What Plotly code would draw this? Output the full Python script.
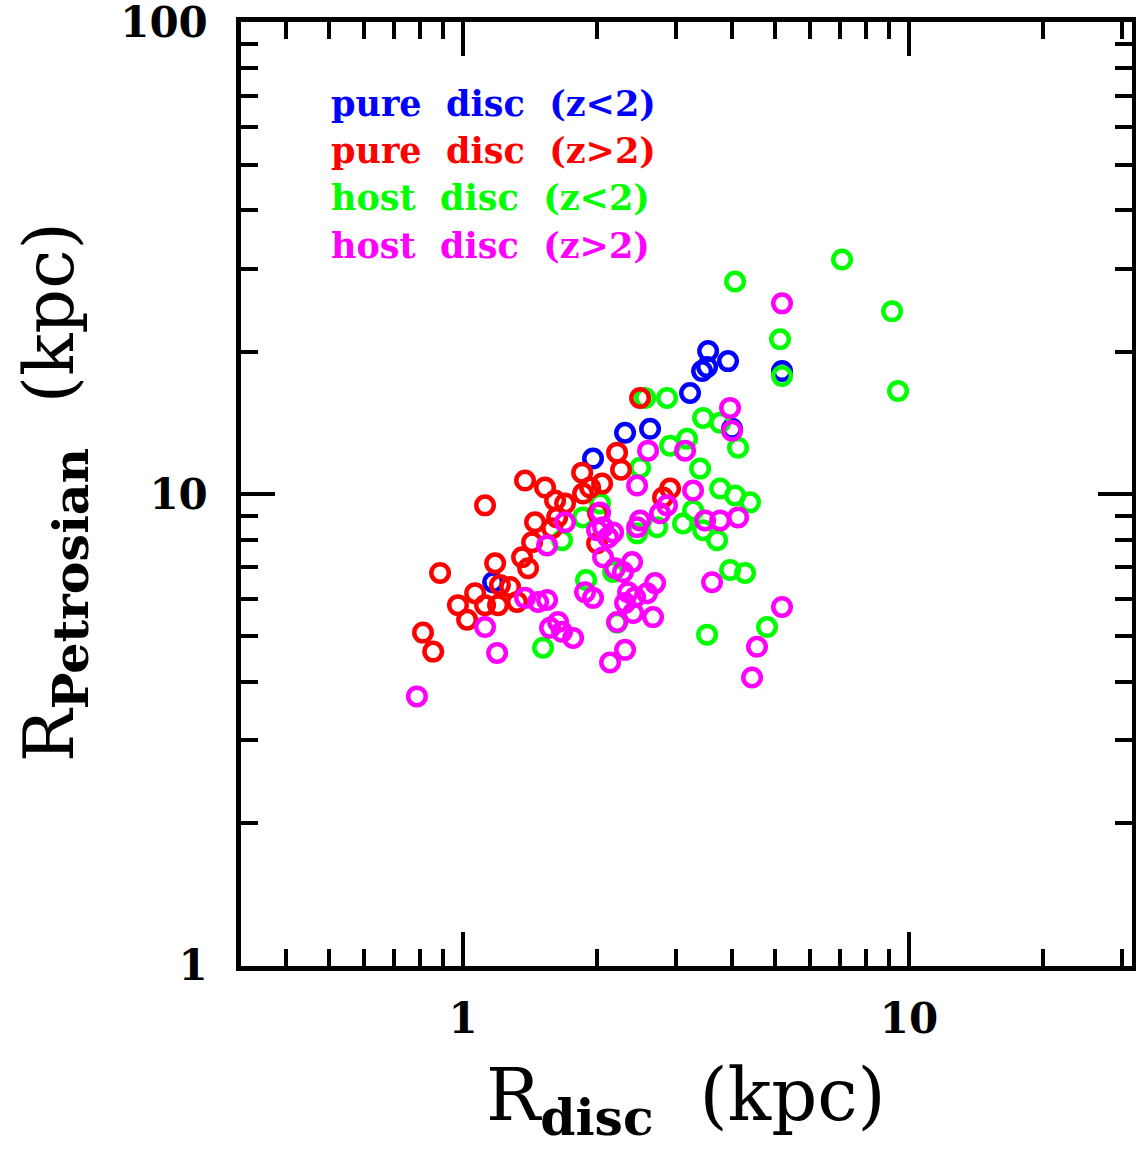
import plotly.graph_objects as go

# ---- data ----
pure_lo_x = [1.168, 1.956, 2.308, 2.626, 3.228, 3.435, 3.525, 3.544, 3.928, 5.190, 4.010]
pure_lo_y = [6.50, 11.89, 13.49, 13.75, 16.38, 18.23, 18.59, 20.10, 19.14, 18.23, 13.75]

pure_hi_x = [1.120, 1.377, 1.527, 1.608, 1.693, 1.849, 1.927, 2.050, 1.858, 2.215, 2.261, 2.494,
             2.912, 2.808, 1.450, 1.584, 1.428, 1.356, 1.399, 1.180, 0.888, 1.064, 1.210, 1.275,
             0.974, 1.021, 1.120, 1.198, 1.321, 0.813, 0.857, 1.997, 2.008, 1.625]
pure_hi_y = [9.46, 10.68, 10.32, 9.69, 9.55, 11.10, 10.32, 10.52, 10.02, 12.24, 11.26, 15.99,
             10.27, 9.83, 8.71, 8.46, 7.90, 7.34, 6.96, 7.13, 6.80, 6.16, 6.41, 6.35,
             5.81, 5.41, 5.81, 5.81, 5.90, 5.08, 4.63, 7.86, 9.10, 8.92]

host_lo_x = [4.073, 7.076, 9.161, 5.137, 5.190, 9.448, 2.559, 2.867, 3.453, 3.770, 4.136, 2.912,
             3.178, 3.400, 2.494, 3.770, 4.073, 4.401, 3.279, 3.113, 3.453, 3.712, 1.858, 2.029,
             2.456, 2.723, 3.969, 4.289, 3.525, 4.804, 1.887, 2.170, 2.215, 1.511, 1.667]
host_lo_y = [28.24, 31.44, 24.41, 21.30, 17.80, 16.54, 15.99, 15.99, 14.50, 14.16, 12.54, 12.66,
             13.10, 11.32, 11.37, 10.27, 9.93, 9.60, 9.23, 8.66, 8.38, 7.98, 8.92, 9.55,
             8.25, 8.50, 6.90, 6.80, 5.03, 5.22, 6.57, 6.83, 5.33, 4.72, 7.98]

host_hi_x = [5.190, 3.969, 4.010, 2.599, 3.146, 2.456, 3.279, 2.867, 2.765, 2.494, 2.456, 2.029,
             2.060, 1.997, 2.170, 2.114, 3.489, 3.770, 4.136, 2.060, 2.393, 2.192, 2.284, 1.693,
             1.543, 1.377, 1.473, 1.543, 1.120, 1.192, 1.633, 1.567, 1.667, 1.765, 0.788, 1.877,
             1.956, 2.344, 2.431, 2.586, 2.695, 2.308, 2.215, 2.406, 2.667, 3.617, 2.308, 2.136,
             5.190, 4.562, 4.446]
host_hi_y = [25.38, 15.23, 13.62, 12.36, 12.36, 10.42, 10.17, 9.46, 9.10, 8.79, 8.50, 9.14,
             8.50, 8.38, 8.29, 8.09, 8.79, 8.79, 8.92, 7.34, 7.17, 6.96, 6.83, 8.71,
             7.78, 6.02, 5.90, 5.96, 5.22, 4.60, 5.35, 5.20, 5.10, 4.95, 3.72, 6.19,
             6.02, 6.19, 6.04, 6.16, 6.47, 5.87, 5.35, 5.59, 5.48, 6.50, 4.67, 4.39,
             5.76, 4.74, 4.08]

series = [
    ("pure disc (z<2)", pure_lo_x, pure_lo_y, "#0000FF"),
    ("host disc (z<2)", host_lo_x, host_lo_y, "#00FF00"),
    ("pure disc (z>2)", pure_hi_x, pure_hi_y, "#FF0000"),
    ("host disc (z>2)", host_hi_x, host_hi_y, "#FF00FF"),
]

legend_labels = ["pure\u00a0\u00a0disc\u00a0\u00a0(z&lt;2)", "pure\u00a0\u00a0disc\u00a0\u00a0(z&gt;2)",
                 "host\u00a0\u00a0disc\u00a0\u00a0(z&lt;2)", "host\u00a0\u00a0disc\u00a0\u00a0(z&gt;2)"]
legend_colors = ["#0000FF", "#FF0000", "#00FF00", "#FF00FF"]

x_tickvals = [1, 10]
x_ticktext = ["1", "10"]
y_tickvals = [1, 10, 100]
y_ticktext = ["1", "10", "100"]
x_minor = [0.4, 0.5, 0.6, 0.7, 0.8, 0.9, 2, 3, 4, 5, 6, 7, 8, 9, 20, 30]
y_minor = [2, 3, 4, 5, 6, 7, 8, 9, 20, 30, 40, 50, 60, 70, 80, 90]

W, H = 1136, 1153
L, R, T, B = 241, 4, 22, 187

fig = go.Figure()
for name, xs, ys, col in series:
    fig.add_trace(go.Scatter(
        x=xs, y=ys, mode="markers", name=name, showlegend=False,
        marker=dict(symbol="circle-open", size=17.5, color=col, line=dict(width=4.5, color=col)),
    ))

tickfont = dict(family="DejaVu Serif", size=42, color="black", weight="bold")
axis_common = dict(
    type="log", showline=True, linewidth=4.5, linecolor="black", mirror="allticks",
    ticks="inside", tickwidth=4, tickcolor="black", ticklen=34,
    showgrid=False, zeroline=False, tickfont=tickfont, ticklabeloverflow="allow",
    automargin=False,
)
fig.update_xaxes(range=[-0.498, 1.5], tickvals=x_tickvals, ticktext=x_ticktext,
                 minor=dict(ticks="inside", ticklen=17, tickwidth=4, tickcolor="black",
                            tickvals=x_minor, showgrid=False),
                 ticklabelstandoff=12, **axis_common)
fig.update_yaxes(range=[-0.0015, 2.0015], tickvals=y_tickvals, ticktext=y_ticktext,
                 minor=dict(ticks="inside", ticklen=17, tickwidth=4, tickcolor="black",
                            tickvals=y_minor, showgrid=False),
                 ticklabelstandoff=20, **axis_common)

def px(x):
    return (x - L) / (W - L - R)

def py(y):
    return (H - B - y) / (H - T - B)

annots = []
for i, (lab, col) in enumerate(zip(legend_labels, legend_colors)):
    annots.append(dict(
        text="<b>" + lab + "</b>", x=px(329), y=py(103 + 47.5 * i), xref="paper", yref="paper",
        xanchor="left", yanchor="middle", showarrow=False,
        font=dict(family="DejaVu Serif", size=35, color=col),
    ))

annots.append(dict(
    text="R<sub><b>disc</b></sub>\u00a0\u00a0(kpc)", x=px(686), y=py(1100),
    xref="paper", yref="paper", xanchor="center", yanchor="middle", showarrow=False,
    font=dict(family="DejaVu Serif", size=72, color="black"),
))
annots.append(dict(
    text="R<sub><b>Petrosian</b></sub>\u00a0\u00a0(kpc)", x=px(54), y=py(492),
    xref="paper", yref="paper", xanchor="center", yanchor="middle", showarrow=False,
    textangle=-90,
    font=dict(family="DejaVu Serif", size=70, color="black"),
))

fig.update_layout(
    width=W, height=H, margin=dict(l=L, r=R, t=T, b=B, pad=0, autoexpand=False),
    paper_bgcolor="white", plot_bgcolor="white", annotations=annots, showlegend=False,
)

fig.write_html("out.html")
